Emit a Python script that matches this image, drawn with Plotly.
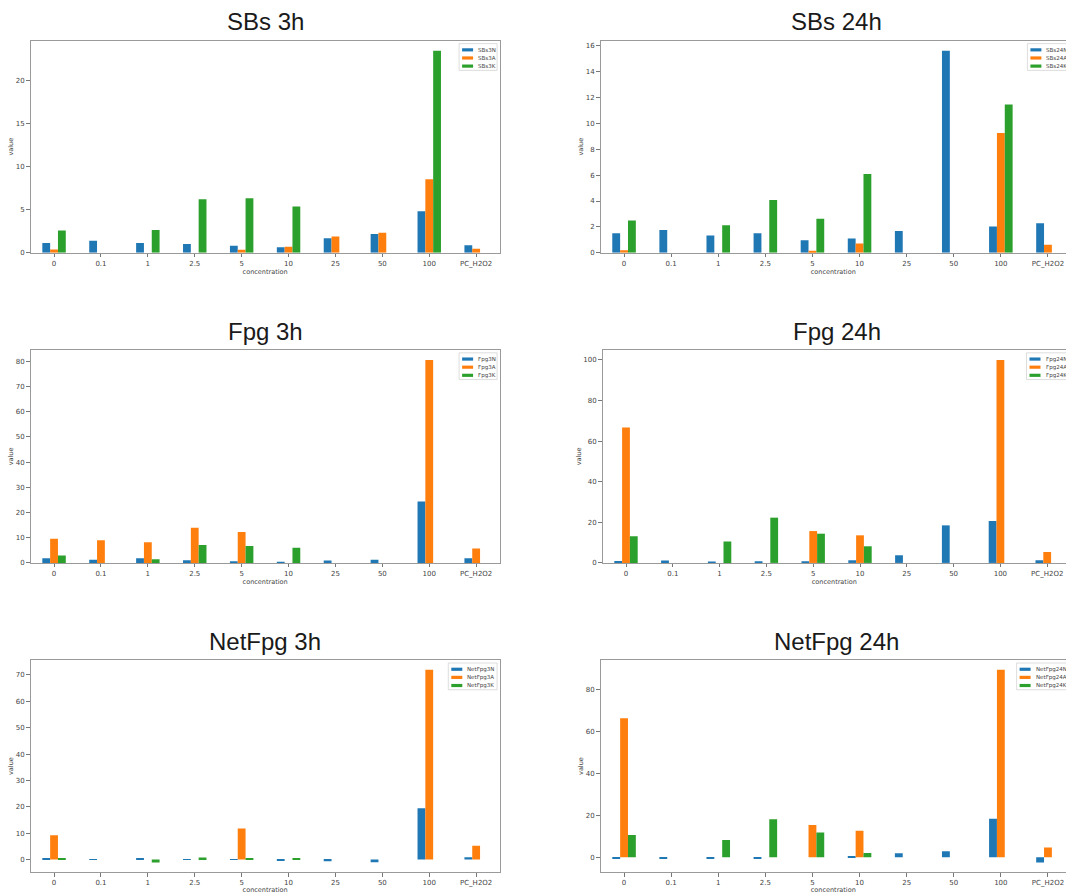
import plotly.graph_objects as go

W, H = 1066, 894

concentrations = ["0", "0.1", "1", "2.5", "5", "10", "25", "50", "100", "PC_H2O2"]

# SBs, 3 h exposure
sbs3_N = [1.12, 1.38, 1.12, 1.00, 0.81, 0.65, 1.69, 2.19, 4.81, 0.88]
sbs3_A = [0.38, 0, 0, 0, 0.35, 0.69, 1.88, 2.31, 8.54, 0.46]
sbs3_K = [2.58, 0, 2.65, 6.23, 6.35, 5.38, 0, 0, 23.5, 0]

# SBs, 24 h exposure
sbs24_N = [1.51, 1.76, 1.33, 1.51, 0.97, 1.10, 1.69, 15.63, 2.02, 2.28]
sbs24_A = [0.20, 0, 0, 0, 0.15, 0.72, 0, 0, 9.26, 0.61]
sbs24_K = [2.50, 0, 2.12, 4.07, 2.63, 6.09, 0, 0, 11.46, 0]

# Fpg, 3 h exposure
fpg3_N = [1.84, 1.30, 1.84, 1.05, 0.66, 0.40, 0.92, 1.30, 24.37, 1.84]
fpg3_A = [9.60, 8.96, 8.17, 13.97, 12.25, 0, 0, 0, 80.5, 5.67]
fpg3_K = [2.90, 0, 1.45, 7.10, 6.70, 6.06, 0, 0, 0, 0]

# Fpg, 24 h exposure
fpg24_N = [0.98, 1.15, 0.66, 0.82, 0.82, 1.30, 3.77, 18.5, 20.66, 1.30]
fpg24_A = [66.7, 0, 0, 0, 15.7, 13.6, 0, 0, 100.0, 5.4]
fpg24_K = [13.1, 0, 10.5, 22.3, 14.4, 8.2, 0, 0, 0, 0]

# Net Fpg, 3 h exposure
netfpg3_N = [0.5, -0.1, 0.5, 0.1, 0.05, -0.2, -0.6, -1.0, 19.5, 0.87]
netfpg3_A = [9.25, 0, 0, 0, 11.75, 0, 0, 0, 72.0, 5.25]
netfpg3_K = [0.35, 0, -1.1, 0.75, 0.4, 0.5, 0, 0, 0, 0]

# Net Fpg, 24 h exposure
netfpg24_N = [-0.5, -0.6, -0.6, -0.5, 0, 0.3, 1.9, 2.8, 18.4, -2.5]
netfpg24_A = [66.3, 0, 0, 0, 15.4, 12.6, 0, 0, 89.4, 4.6]
netfpg24_K = [10.55, 0, 8.2, 18.1, 11.8, 2.05, 0, 0, 0, 0]

colors = ["#1f77b4", "#ff7f0e", "#2ca02c"]

panels = [
    dict(title="SBs 3h", names=["SBs3N", "SBs3A", "SBs3K"],
         values=[sbs3_N, sbs3_A, sbs3_K], dtick=5),
    dict(title="SBs 24h", names=["SBs24N", "SBs24A", "SBs24K"],
         values=[sbs24_N, sbs24_A, sbs24_K], dtick=2),
    dict(title="Fpg 3h", names=["Fpg3N", "Fpg3A", "Fpg3K"],
         values=[fpg3_N, fpg3_A, fpg3_K], dtick=10),
    dict(title="Fpg 24h", names=["Fpg24N", "Fpg24A", "Fpg24K"],
         values=[fpg24_N, fpg24_A, fpg24_K], dtick=20),
    dict(title="NetFpg 3h", names=["NetFpg3N", "NetFpg3A", "NetFpg3K"],
         values=[netfpg3_N, netfpg3_A, netfpg3_K], dtick=10),
    dict(title="NetFpg 24h", names=["NetFpg24N", "NetFpg24A", "NetFpg24K"],
         values=[netfpg24_N, netfpg24_A, netfpg24_K], dtick=20),
]

# axes boxes in pixels (left, right, top, bottom); right-hand boxes run past the page edge
boxes = [
    (30.6, 499.6, 41, 255), (600.5, 1071.5, 41, 255),
    (30.6, 499.6, 353, 568), (602.6, 1070.6, 353, 568),
    (30.6, 499.6, 666, 880), (600.5, 1071.5, 666, 880),
]


def fx(px):
    return px / W


def fy(py):
    return 1 - py / H


FRAME = "#9a9a9a"
TICKTXT = "#444444"
TICKFONT = dict(family="DejaVu Sans", size=7, color=TICKTXT)
LABELFONT = dict(family="DejaVu Sans", size=6.5, color=TICKTXT)

fig = go.Figure()
shapes, annotations = [], []

for i, (p, (x0, x1, y0, y1)) in enumerate(zip(panels, boxes)):
    suffix = "" if i == 0 else str(i + 1)
    xa, ya = "x" + suffix, "y" + suffix
    for name, vals, color in zip(p["names"], p["values"], colors):
        fig.add_trace(go.Bar(
            x=concentrations, y=vals, name=name, xaxis=xa, yaxis=ya,
            marker=dict(color=color, line=dict(width=0)), showlegend=False,
        ))

    # matplotlib-style autoscale: bars stick to zero, 5 % padding elsewhere
    allv = [v for s in p["values"] for v in s]
    lo, hi = min(min(allv), 0), max(max(allv), 0)
    span = hi - lo
    ylo = lo - 0.05 * span if lo < 0 else 0
    yhi = hi + 0.05 * span

    n = len(concentrations)
    dom_right = min(x1, W)
    x_end = -0.5 + n * (dom_right - x0) / (x1 - x0)
    clipped = x1 > W

    fig.layout["xaxis" + suffix] = dict(
        domain=[fx(x0), fx(dom_right)], anchor=ya, type="category",
        range=[-0.5, x_end], showline=True, mirror=True, linecolor=FRAME,
        linewidth=1, ticks="outside", ticklen=3.5, tickwidth=0.8,
        tickcolor="#777777", tickfont=TICKFONT, showgrid=False,
        zeroline=False, fixedrange=True,
        title=dict(text="concentration", font=LABELFONT, standoff=2),
    )
    fig.layout["yaxis" + suffix] = dict(
        domain=[fy(y1), fy(y0)], anchor=xa, range=[ylo, yhi], dtick=p["dtick"],
        tick0=0, showline=True, mirror=not clipped, linecolor=FRAME,
        linewidth=1, ticks="outside", ticklen=3.5, tickwidth=0.8,
        tickcolor="#777777", tickfont=TICKFONT, showgrid=False,
        zeroline=False, fixedrange=True,
        title=dict(text="value", font=LABELFONT, standoff=1),
    )

    # panel title
    annotations.append(dict(
        text=p["title"], xref="paper", yref="paper",
        x=fx((x0 + x1) / 2), y=fy(y0 - 19), xanchor="center", yanchor="middle",
        showarrow=False,
        font=dict(family="Liberation Sans", size=24, color="#1a1a1a"),
    ))

    # legend box in the upper-right corner of the axes
    longest = max(len(s) for s in p["names"])
    bw = 20 + 3.6 * longest
    bx1 = x1 - 2.5
    bx0 = bx1 - bw
    by0 = y0 + 3
    by1 = by0 + 27
    shapes.append(dict(
        type="rect", xref="paper", yref="paper",
        x0=fx(bx0), x1=fx(bx1), y0=fy(by1), y1=fy(by0),
        fillcolor="white", line=dict(color="#d4d4d4", width=0.8), layer="above",
    ))
    for j, (name, color) in enumerate(zip(p["names"], colors)):
        cy = by0 + 6.3 + 8.2 * j
        shapes.append(dict(
            type="rect", xref="paper", yref="paper",
            x0=fx(bx0 + 3), x1=fx(bx0 + 14), y0=fy(cy + 1.6), y1=fy(cy - 1.6),
            fillcolor=color, line=dict(width=0), layer="above",
        ))
        annotations.append(dict(
            text=name, xref="paper", yref="paper", x=fx(bx0 + 17), y=fy(cy),
            xanchor="left", yanchor="middle", showarrow=False,
            font=dict(family="DejaVu Sans", size=5.5, color="#444444"),
        ))

fig.update_layout(
    width=W, height=H, margin=dict(l=0, r=0, t=0, b=0),
    paper_bgcolor="white", plot_bgcolor="white",
    barmode="group", bargap=0.5, bargroupgap=0,
    shapes=shapes, annotations=annotations, showlegend=False,
)

fig.write_html("out.html")
